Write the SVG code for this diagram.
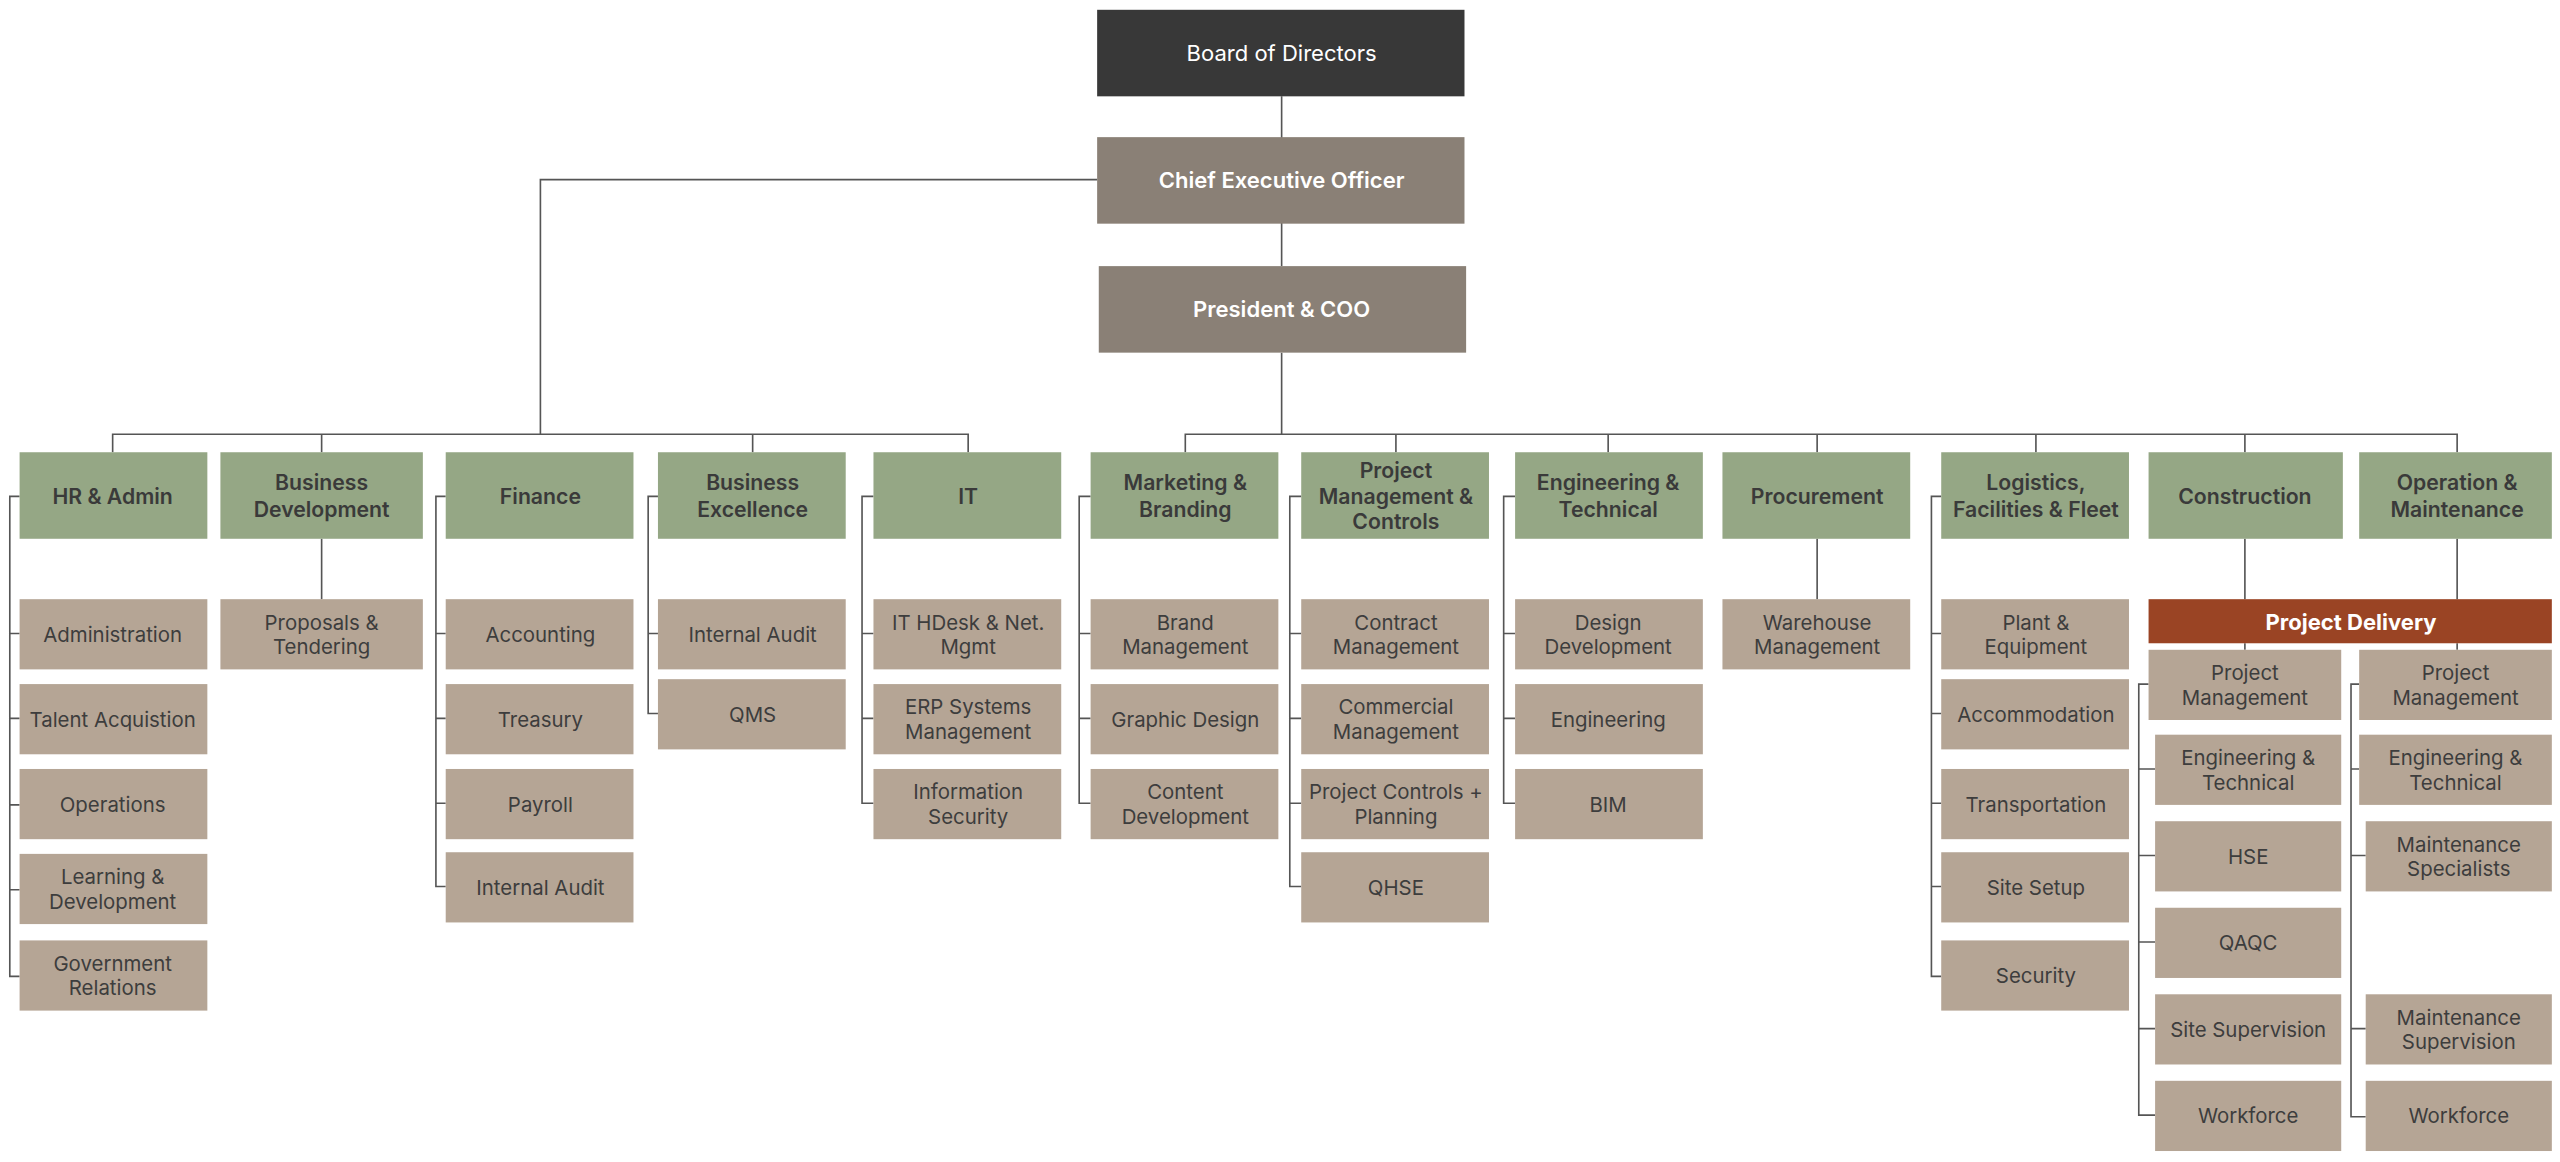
<svg xmlns="http://www.w3.org/2000/svg" width="2560" height="1162" viewBox="0 0 2560 1162">
<style>
.c{fill:none;stroke:#555;stroke-width:1}
.t{font-family:Inter,"Noto Sans",sans-serif;font-size:12.5px;fill:#3d3d3d;text-anchor:middle;dominant-baseline:central}
.h{font-family:Inter,"Noto Sans",sans-serif;font-size:13px;font-weight:600;fill:#3a3a3a;text-anchor:middle;dominant-baseline:central}
.w{font-family:Inter,"Noto Sans",sans-serif;font-size:13.5px;fill:#fff;text-anchor:middle;dominant-baseline:central}
.g{fill:#95a785}.b{fill:#b5a595}.m{fill:#8a8076}
</style>
<rect width="2560" height="1162" fill="#fff"/>
<g transform="scale(1.63265)">
<g id="connectors" class="c">
<path d="M785 59V163M672 110H331V266M785 216V266M69 277V266H593V277M197 266V277M461 266V277M726 277V266H1505V277M855 266V277M985 266V277M1113 266V277M1247 266V277M1375 266V277"/>
<path d="M197 330V367M1113 330V367M1375 330V367M1505 330V367M1375 394V398M1505 394V398"/>
<path d="M12 304H6V598H12M6 388H12M6 440H12M6 493H12M6 545H12"/>
<path d="M273 304H267V543H273M267 388H273M267 440H273M267 492H273"/>
<path d="M403 304H397V437H403M397 388H403"/>
<path d="M535 304H528V492H535M528 388H535M528 440H535"/>
<path d="M668 304H661V492H668M661 388H668M661 440H668"/>
<path d="M797 304H790V543H797M790 388H797M790 440H797M790 492H797"/>
<path d="M928 304H921V492H928M921 388H928M921 440H928"/>
<path d="M1189 304H1183V598H1189M1183 388H1189M1183 437H1189M1183 492H1189M1183 543H1189"/>
<path d="M1316 419H1310V683H1320M1310 471H1320M1310 524H1320M1310 577H1320M1310 630H1320"/>
<path d="M1445 419H1440V684H1449M1440 471H1445M1440 524H1449M1440 630H1449"/>
</g>
<g id="board"><rect x="672" y="6" width="225" height="53" fill="#383838"/><text class="w" x="785" y="32.5">Board of Directors</text></g>
<g id="ceo"><rect class="m" x="672" y="84" width="225" height="53"/><text class="w" x="785" y="110.5" font-weight="600">Chief Executive Officer</text></g>
<g id="president"><rect class="m" x="673" y="163" width="225" height="53"/><text class="w" x="785" y="189.5" font-weight="600">President &amp; COO</text></g>

<g id="hr"><rect class="g" x="12" y="277" width="115" height="53"/><text class="h" x="69" y="303.5">HR &amp; Admin</text></g>
<g id="bd"><rect class="g" x="135" y="277" width="124" height="53"/><text class="h" x="197" y="295.5">Business</text><text class="h" x="197" y="311.5">Development</text></g>
<g id="fin"><rect class="g" x="273" y="277" width="115" height="53"/><text class="h" x="331" y="303.5">Finance</text></g>
<g id="be"><rect class="g" x="403" y="277" width="115" height="53"/><text class="h" x="461" y="295.5">Business</text><text class="h" x="461" y="311.5">Excellence</text></g>
<g id="it"><rect class="g" x="535" y="277" width="115" height="53"/><text class="h" x="593" y="303.5">IT</text></g>
<g id="mkt"><rect class="g" x="668" y="277" width="115" height="53"/><text class="h" x="726" y="295.5">Marketing &amp;</text><text class="h" x="726" y="311.5">Branding</text></g>
<g id="pmc"><rect class="g" x="797" y="277" width="115" height="53"/><text class="h" x="855" y="288">Project</text><text class="h" x="855" y="303.5">Management &amp;</text><text class="h" x="855" y="319">Controls</text></g>
<g id="eng"><rect class="g" x="928" y="277" width="115" height="53"/><text class="h" x="985" y="295.5">Engineering &amp;</text><text class="h" x="985" y="311.5">Technical</text></g>
<g id="proc"><rect class="g" x="1055" y="277" width="115" height="53"/><text class="h" x="1113" y="303.5">Procurement</text></g>
<g id="log"><rect class="g" x="1189" y="277" width="115" height="53"/><text class="h" x="1247" y="295.5">Logistics,</text><text class="h" x="1247" y="311.5">Facilities &amp; Fleet</text></g>
<g id="cons"><rect class="g" x="1316" y="277" width="119" height="53"/><text class="h" x="1375" y="303.5">Construction</text></g>
<g id="om"><rect class="g" x="1445" y="277" width="118" height="53"/><text class="h" x="1505" y="295.5">Operation &amp;</text><text class="h" x="1505" y="311.5">Maintenance</text></g>

<g id="hr1"><rect class="b" x="12" y="367" width="115" height="43"/><text class="t" x="69" y="388.5">Administration</text></g>
<g id="hr2"><rect class="b" x="12" y="419" width="115" height="43"/><text class="t" x="69" y="440.5">Talent Acquistion</text></g>
<g id="hr3"><rect class="b" x="12" y="471" width="115" height="43"/><text class="t" x="69" y="492.5">Operations</text></g>
<g id="hr4"><rect class="b" x="12" y="523" width="115" height="43"/><text class="t" x="69" y="537">Learning &amp;</text><text class="t" x="69" y="552">Development</text></g>
<g id="hr5"><rect class="b" x="12" y="576" width="115" height="43"/><text class="t" x="69" y="590">Government</text><text class="t" x="69" y="605">Relations</text></g>
<g id="bd1"><rect class="b" x="135" y="367" width="124" height="43"/><text class="t" x="197" y="381">Proposals &amp;</text><text class="t" x="197" y="396">Tendering</text></g>
<g id="fin1"><rect class="b" x="273" y="367" width="115" height="43"/><text class="t" x="331" y="388.5">Accounting</text></g>
<g id="fin2"><rect class="b" x="273" y="419" width="115" height="43"/><text class="t" x="331" y="440.5">Treasury</text></g>
<g id="fin3"><rect class="b" x="273" y="471" width="115" height="43"/><text class="t" x="331" y="492.5">Payroll</text></g>
<g id="fin4"><rect class="b" x="273" y="522" width="115" height="43"/><text class="t" x="331" y="543.5">Internal Audit</text></g>
<g id="be1"><rect class="b" x="403" y="367" width="115" height="43"/><text class="t" x="461" y="388.5">Internal Audit</text></g>
<g id="be2"><rect class="b" x="403" y="416" width="115" height="43"/><text class="t" x="461" y="437.5">QMS</text></g>
<g id="it1"><rect class="b" x="535" y="367" width="115" height="43"/><text class="t" x="593" y="381">IT HDesk &amp; Net.</text><text class="t" x="593" y="396">Mgmt</text></g>
<g id="it2"><rect class="b" x="535" y="419" width="115" height="43"/><text class="t" x="593" y="433">ERP Systems</text><text class="t" x="593" y="448">Management</text></g>
<g id="it3"><rect class="b" x="535" y="471" width="115" height="43"/><text class="t" x="593" y="485">Information</text><text class="t" x="593" y="500">Security</text></g>
<g id="mkt1"><rect class="b" x="668" y="367" width="115" height="43"/><text class="t" x="726" y="381">Brand</text><text class="t" x="726" y="396">Management</text></g>
<g id="mkt2"><rect class="b" x="668" y="419" width="115" height="43"/><text class="t" x="726" y="440.5">Graphic Design</text></g>
<g id="mkt3"><rect class="b" x="668" y="471" width="115" height="43"/><text class="t" x="726" y="485">Content</text><text class="t" x="726" y="500">Development</text></g>
<g id="pmc1"><rect class="b" x="797" y="367" width="115" height="43"/><text class="t" x="855" y="381">Contract</text><text class="t" x="855" y="396">Management</text></g>
<g id="pmc2"><rect class="b" x="797" y="419" width="115" height="43"/><text class="t" x="855" y="433">Commercial</text><text class="t" x="855" y="448">Management</text></g>
<g id="pmc3"><rect class="b" x="797" y="471" width="115" height="43"/><text class="t" x="855" y="485">Project Controls +</text><text class="t" x="855" y="500">Planning</text></g>
<g id="pmc4"><rect class="b" x="797" y="522" width="115" height="43"/><text class="t" x="855" y="543.5">QHSE</text></g>
<g id="eng1"><rect class="b" x="928" y="367" width="115" height="43"/><text class="t" x="985" y="381">Design</text><text class="t" x="985" y="396">Development</text></g>
<g id="eng2"><rect class="b" x="928" y="419" width="115" height="43"/><text class="t" x="985" y="440.5">Engineering</text></g>
<g id="eng3"><rect class="b" x="928" y="471" width="115" height="43"/><text class="t" x="985" y="492.5">BIM</text></g>
<g id="proc1"><rect class="b" x="1055" y="367" width="115" height="43"/><text class="t" x="1113" y="381">Warehouse</text><text class="t" x="1113" y="396">Management</text></g>
<g id="log1"><rect class="b" x="1189" y="367" width="115" height="43"/><text class="t" x="1247" y="381">Plant &amp;</text><text class="t" x="1247" y="396">Equipment</text></g>
<g id="log2"><rect class="b" x="1189" y="416" width="115" height="43"/><text class="t" x="1247" y="437.5">Accommodation</text></g>
<g id="log3"><rect class="b" x="1189" y="471" width="115" height="43"/><text class="t" x="1247" y="492.5">Transportation</text></g>
<g id="log4"><rect class="b" x="1189" y="522" width="115" height="43"/><text class="t" x="1247" y="543.5">Site Setup</text></g>
<g id="log5"><rect class="b" x="1189" y="576" width="115" height="43"/><text class="t" x="1247" y="597.5">Security</text></g>

<g id="pd"><rect x="1316" y="367" width="247" height="27" fill="#9a4424"/><text class="w" x="1440" y="381" font-weight="700">Project Delivery</text></g>
<g id="c1"><rect class="b" x="1316" y="398" width="118" height="43"/><text class="t" x="1375" y="412">Project</text><text class="t" x="1375" y="427">Management</text></g>
<g id="c2"><rect class="b" x="1320" y="450" width="114" height="43"/><text class="t" x="1377" y="464">Engineering &amp;</text><text class="t" x="1377" y="479">Technical</text></g>
<g id="c3"><rect class="b" x="1320" y="503" width="114" height="43"/><text class="t" x="1377" y="524.5">HSE</text></g>
<g id="c4"><rect class="b" x="1320" y="556" width="114" height="43"/><text class="t" x="1377" y="577.5">QAQC</text></g>
<g id="c5"><rect class="b" x="1320" y="609" width="114" height="43"/><text class="t" x="1377" y="630.5">Site Supervision</text></g>
<g id="c6"><rect class="b" x="1320" y="662" width="114" height="43"/><text class="t" x="1377" y="683.5">Workforce</text></g>
<g id="o1"><rect class="b" x="1445" y="398" width="118" height="43"/><text class="t" x="1504" y="412">Project</text><text class="t" x="1504" y="427">Management</text></g>
<g id="o2"><rect class="b" x="1445" y="450" width="118" height="43"/><text class="t" x="1504" y="464">Engineering &amp;</text><text class="t" x="1504" y="479">Technical</text></g>
<g id="o3"><rect class="b" x="1449" y="503" width="114" height="43"/><text class="t" x="1506" y="517">Maintenance</text><text class="t" x="1506" y="532">Specialists</text></g>
<g id="o4"><rect class="b" x="1449" y="609" width="114" height="43"/><text class="t" x="1506" y="623">Maintenance</text><text class="t" x="1506" y="638">Supervision</text></g>
<g id="o5"><rect class="b" x="1449" y="662" width="114" height="43"/><text class="t" x="1506" y="683.5">Workforce</text></g>
</g>
</svg>
